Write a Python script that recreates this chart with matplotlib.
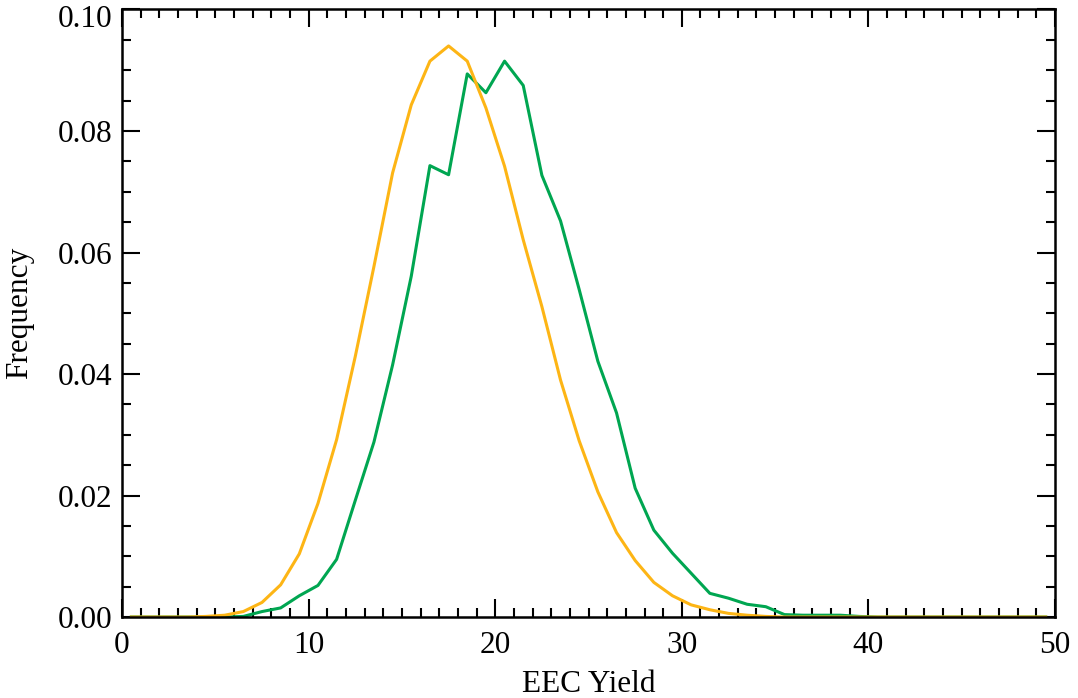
import numpy as np
import matplotlib
matplotlib.use("Agg")
import matplotlib.pyplot as plt
import matplotlib.transforms as mtransforms
from matplotlib.ticker import MultipleLocator

# ── Data (bin centres, frequency) ────────────────────────────────────────────
yield_bins = np.arange(0.5, 50.0, 1.0)

freq_orange = [
    0.0, 0.0, 0.0, 0.0, 0.0001, 0.0003, 0.0009, 0.0024, 0.0053, 0.0104,
    0.0187, 0.0292, 0.0429, 0.0577, 0.0731, 0.0843, 0.0915, 0.0940, 0.0915, 0.0838,
    0.0742, 0.0621, 0.0511, 0.0390, 0.0290, 0.0206, 0.0139, 0.0093, 0.0057, 0.0035,
    0.0020, 0.0012, 0.0006, 0.0003, 0.0001, 0.0, 0.0, 0.0, 0.0, 0.0,
    0.0, 0.0, 0.0, 0.0, 0.0, 0.0, 0.0, 0.0, 0.0, 0.0,
]

freq_green = [
    0.0, 0.0, 0.0, 0.0, 0.0, 0.0, 0.0001, 0.0009, 0.0015, 0.0035,
    0.0052, 0.0095, 0.0192, 0.0288, 0.0415, 0.0561, 0.0743, 0.0728, 0.0894, 0.0863,
    0.0915, 0.0875, 0.0727, 0.0652, 0.0539, 0.0421, 0.0336, 0.0212, 0.0143, 0.0105,
    0.0072, 0.0039, 0.0031, 0.0021, 0.0017, 0.0004, 0.0003, 0.0003, 0.0003, 0.0001,
    0.0, 0.0, 0.0, 0.0, 0.0, 0.0, 0.0, 0.0, 0.0, 0.0,
]

plt.rcParams["font.family"] = ["Liberation Serif", "DejaVu Serif"]
plt.rcParams["font.size"] = 22.5

fig = plt.figure(figsize=(10.78, 6.98), dpi=100)
ax = fig.add_axes([0.1132, 0.1160, 0.9787 - 0.1132, 0.9864 - 0.1160])

ax.plot(yield_bins, freq_green, color="#00A651", linewidth=2.2)
ax.plot(yield_bins, freq_orange, color="#FDB515", linewidth=2.2)

ax.set_xlim(0, 50)
ax.set_ylim(0, 0.10)
ax.xaxis.set_major_locator(MultipleLocator(10))
ax.xaxis.set_minor_locator(MultipleLocator(1))
ax.yaxis.set_major_locator(MultipleLocator(0.02))
ax.yaxis.set_minor_locator(MultipleLocator(0.005))
ax.xaxis.set_major_formatter(plt.FuncFormatter(lambda v, p: f"{v:.0f}"))
ax.yaxis.set_major_formatter(plt.FuncFormatter(lambda v, p: f"{v:.2f}"))

ax.tick_params(which="both", direction="in", top=True, right=True, width=1.5)
ax.tick_params(which="major", length=13)
ax.tick_params(which="minor", length=6.5)
ax.tick_params(axis="x", which="major", pad=10)
ax.tick_params(axis="y", which="major", pad=7)
for sp in ax.spines.values():
    sp.set_linewidth(1.8)

ax.set_xlabel("EEC Yield")
ax.set_ylabel("Frequency")
ax.xaxis.set_label_coords(0.5, -0.087)
ax.yaxis.set_label_coords(-0.094, 0.5)

# top label sits a little lower, like in the original
fig.canvas.draw()
for tk in ax.yaxis.get_major_ticks():
    if tk.label1.get_text() == "0.10":
        tk.label1.set_transform(tk.label1.get_transform()
                                + mtransforms.ScaledTranslation(0, -7 / 100, fig.dpi_scale_trans))

fig.savefig("out.png", dpi=100)
